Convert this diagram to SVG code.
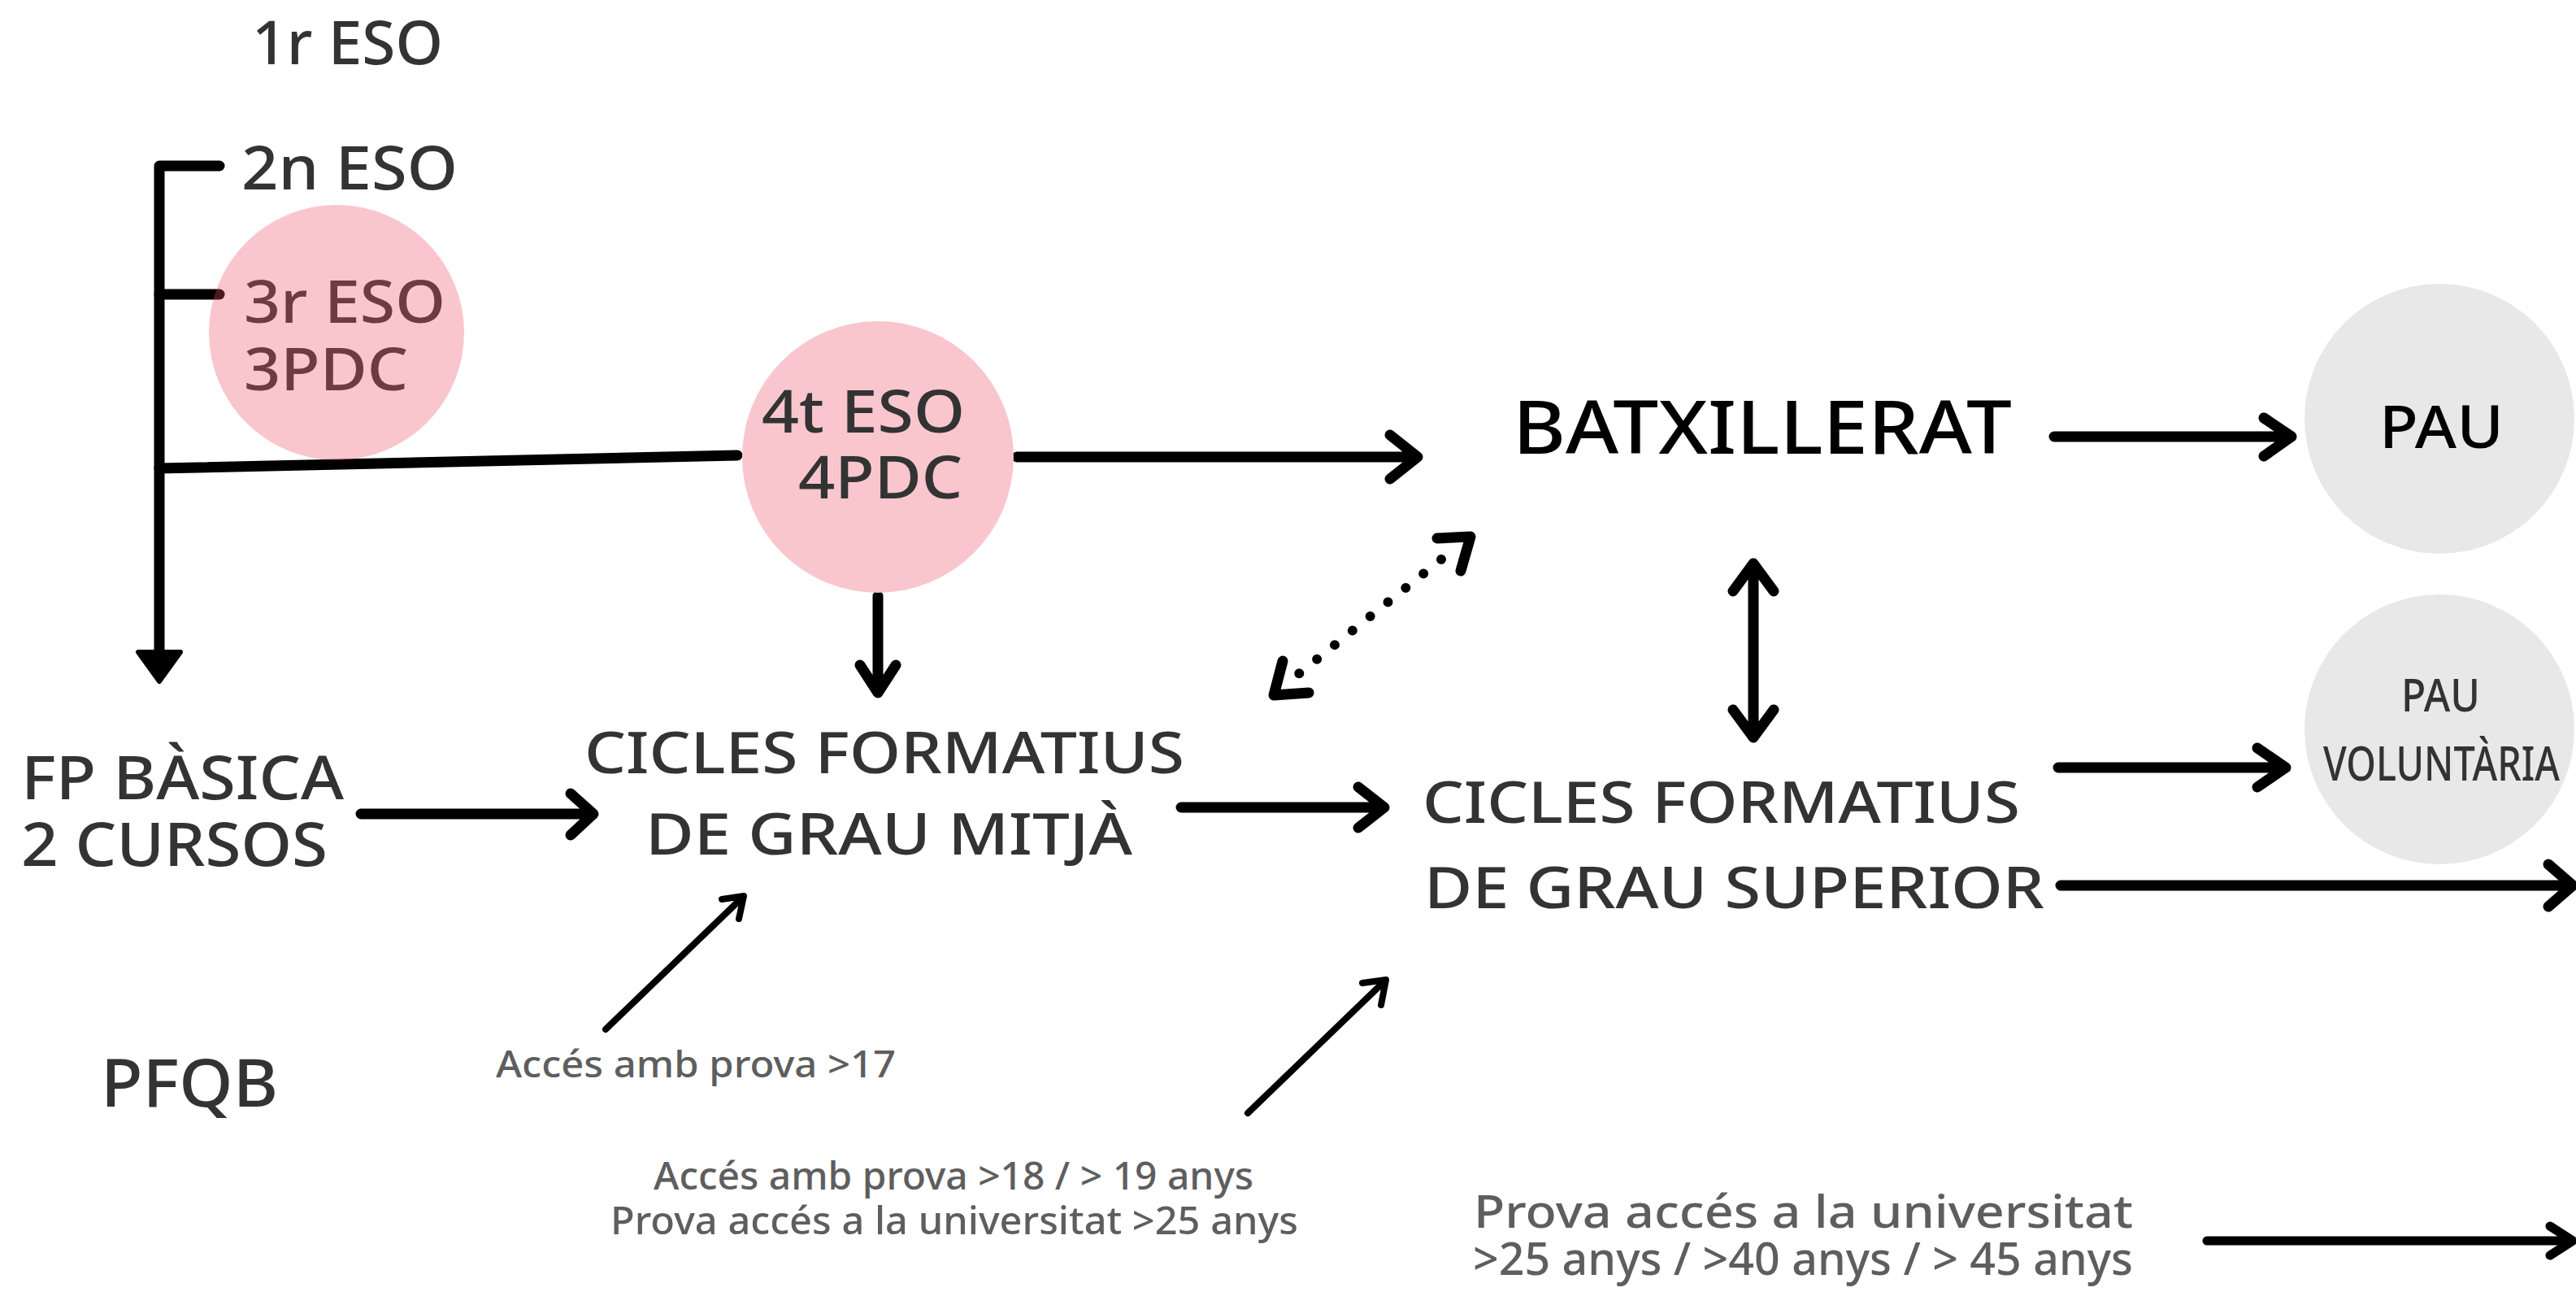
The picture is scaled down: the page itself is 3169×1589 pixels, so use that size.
<svg xmlns="http://www.w3.org/2000/svg" width="3169" height="1589" viewBox="0 0 3169 1589">
<style>
.t{font-family:"Noto Sans","Open Sans","Liberation Sans",sans-serif;font-weight:500;fill:#333333}
.k{fill:#000000}
.g{fill:#5e5e5e}
.ln{fill:none;stroke:#000;stroke-width:13;stroke-linecap:round;stroke-linejoin:round}
.thin{fill:none;stroke:#000;stroke-width:8;stroke-linecap:round;stroke-linejoin:round}
.dot{fill:none;stroke:#000;stroke-width:12;stroke-linecap:round;stroke-dasharray:0 28}
</style>
<rect width="3169" height="1589" fill="#ffffff"/>
<g id="connectors">
  <path class="ln" d="M270,204 L196,204 L196,805"/>
  <path class="ln" d="M196,362 L270,362"/>
  <path class="ln" d="M196,576 L907,560"/>
  <polygon points="170,802 222,802 196,838" fill="#000" stroke="#000" stroke-width="6" stroke-linejoin="round"/>
  <path class="ln" d="M1251,562 L1742,562 M1710,535 L1744,562 L1710,589"/>
  <path class="ln" d="M1080,733 L1080,850 M1058,818 L1080,852 L1102,818"/>
  <path class="ln" d="M444,1001 L728,1001 M702,976 L730,1001 L702,1027"/>
  <path class="ln" d="M1453,993 L1701,993 M1671,968 L1703,993 L1671,1018"/>
  <path class="thin" d="M745,1266 L913,1104 M888,1106 L915,1102 L909,1130"/>
  <path class="thin" d="M1535,1369 L1703,1207 M1676,1209 L1705,1205 L1699,1236"/>
  <path class="dot" d="M1773,688 L1596,830"/>
  <path class="ln" d="M1768,662 L1809,660 L1797,702"/>
  <path class="ln" d="M1578,813 L1567,855 L1610,852"/>
  <path class="ln" d="M2157,695 L2157,905 M2132,727 L2157,693 L2182,727 M2132,873 L2157,907 L2182,873"/>
  <path class="ln" d="M2527,537 L2817,537 M2785,514 L2819,537 L2785,561"/>
  <path class="ln" d="M2532,944 L2810,944 M2777,920 L2812,944 L2777,968"/>
  <path class="ln" d="M2535,1089 L3163,1089 M3135,1063 L3165,1089 L3135,1115"/>
  <path class="ln" style="stroke-width:11" d="M2715,1526 L3163,1526 M3137,1508 L3165,1526 L3137,1544"/>
</g>
<g id="n1r"><text class="t" x="310" y="79" font-size="74" textLength="235" lengthAdjust="spacingAndGlyphs">1r ESO</text></g>
<g id="n2n"><text class="t" x="297" y="233" font-size="74" textLength="266" lengthAdjust="spacingAndGlyphs">2n ESO</text></g>
<g id="n3r">
  <text class="t" x="300" y="397" font-size="72" textLength="248" lengthAdjust="spacingAndGlyphs">3r ESO</text>
  <text class="t" x="300" y="480" font-size="72" textLength="202" lengthAdjust="spacingAndGlyphs">3PDC</text>
  <circle cx="414" cy="409" r="157" fill="#ec4e67" fill-opacity="0.32"/>
</g>
<g id="n4t">
  <circle cx="1080" cy="562" r="167" fill="#f9c6ce"/>
  <text class="t" x="937" y="532" font-size="73" textLength="250" lengthAdjust="spacingAndGlyphs">4t ESO</text>
  <text class="t" x="982" y="613" font-size="73" textLength="202" lengthAdjust="spacingAndGlyphs">4PDC</text>
</g>
<g id="nbatx"><text class="t k" x="1861" y="558" font-size="90" textLength="614" lengthAdjust="spacingAndGlyphs">BATXILLERAT</text></g>
<g id="npau">
  <circle cx="3001" cy="515" r="166" fill="#e8e8e8"/>
  <text class="t k" x="2927" y="551" font-size="73" textLength="153" lengthAdjust="spacingAndGlyphs">PAU</text>
</g>
<g id="npauvol">
  <circle cx="3001" cy="897" r="166" fill="#e8e8e8"/>
  <text class="t" x="2954" y="875" font-size="56" textLength="97" lengthAdjust="spacingAndGlyphs">PAU</text>
  <text class="t" x="2858" y="960" font-size="58" textLength="291" lengthAdjust="spacingAndGlyphs">VOLUNTÀRIA</text>
</g>
<g id="ncfgm">
  <text class="t" x="719" y="951" font-size="70" textLength="738" lengthAdjust="spacingAndGlyphs">CICLES FORMATIUS</text>
  <text class="t" x="794" y="1051" font-size="70" textLength="599" lengthAdjust="spacingAndGlyphs">DE GRAU MITJÀ</text>
</g>
<g id="ncfgs">
  <text class="t" x="1750" y="1012" font-size="70" textLength="735" lengthAdjust="spacingAndGlyphs">CICLES FORMATIUS</text>
  <text class="t" x="1752" y="1117" font-size="70" textLength="763" lengthAdjust="spacingAndGlyphs">DE GRAU SUPERIOR</text>
</g>
<g id="nfpb">
  <text class="t" x="26" y="983" font-size="74" textLength="397" lengthAdjust="spacingAndGlyphs">FP BÀSICA</text>
  <text class="t" x="26" y="1065" font-size="74" textLength="377" lengthAdjust="spacingAndGlyphs">2 CURSOS</text>
</g>
<g id="npfqb"><text class="t" x="124" y="1361" font-size="81" textLength="218" lengthAdjust="spacingAndGlyphs">PFQB</text></g>
<g id="nacc17"><text class="t g" x="610" y="1325" font-size="45" textLength="492" lengthAdjust="spacingAndGlyphs">Accés amb prova &gt;17</text></g>
<g id="nacc18">
  <text class="t g" x="804" y="1463" font-size="48" textLength="738" lengthAdjust="spacingAndGlyphs">Accés amb prova &gt;18 / &gt; 19 anys</text>
  <text class="t g" x="751" y="1518" font-size="48" textLength="846" lengthAdjust="spacingAndGlyphs">Prova accés a la universitat &gt;25 anys</text>
</g>
<g id="nprova">
  <text class="t g" x="1813" y="1510" font-size="56" textLength="811" lengthAdjust="spacingAndGlyphs">Prova accés a la universitat</text>
  <text class="t g" x="1812" y="1568" font-size="56" textLength="812" lengthAdjust="spacingAndGlyphs">&gt;25 anys / &gt;40 anys / &gt; 45 anys</text>
</g>
</svg>
